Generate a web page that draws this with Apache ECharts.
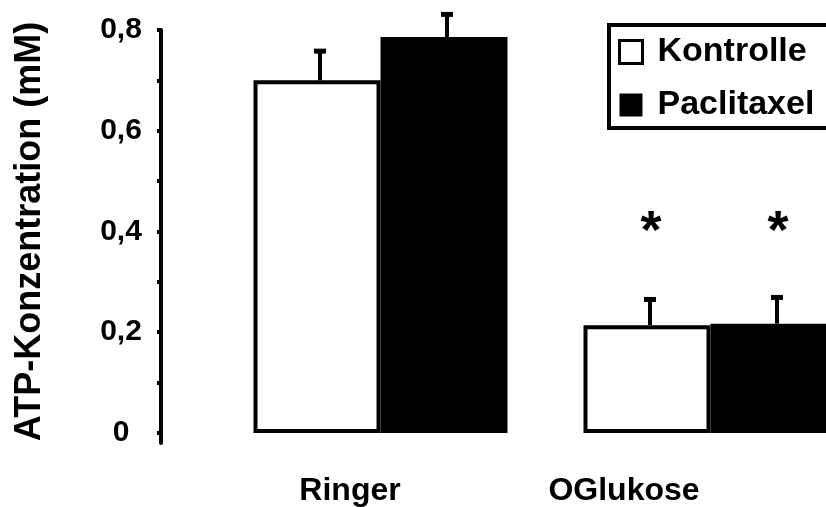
<!DOCTYPE html>
<html><head><meta charset="utf-8">
<script src="https://cdn.jsdelivr.net/npm/echarts@6/dist/echarts.min.js"></script>
<style>html,body{margin:0;padding:0;background:#fff}#c{width:826px;height:507px}</style>
</head><body><div id="c"></div>
<script>
// ---- data ----
const categories = ['Ringer', 'OGlukose'];
const seriesNames = ['Kontrolle', 'Paclitaxel'];
const kontrolle = [0.700, 0.214];
const paclitaxel = [0.786, 0.217];
const kontrolleErr = [0.059, 0.052];
const paclitaxelErr = [0.046, 0.053];
const kontrolleSig = [null, 0.42];
const paclitaxelSig = [null, 0.42];
const yLabelValues = [0, 0.2, 0.4, 0.6, 0.8];
const yTickValues = [0, 0.1, 0.2, 0.3, 0.4, 0.5, 0.6, 0.7, 0.8];

// ---- style ----
const FONT = 'Liberation Sans, Arial, sans-serif';
const BAR_W = 127;

const chart = echarts.init(document.getElementById('c'), null, {renderer: 'canvas'});

function errSeries(idx, vals, errs, sigs) {
  return {
    type: 'custom',
    z: 5,
    silent: true,
    data: categories.map((c, i) => [i, vals[i], errs[i], sigs[i] == null ? NaN : sigs[i]]),
    renderItem: function (params, api) {
      const ci = api.value(0), v = api.value(1), e = api.value(2), s = api.value(3);
      const base = api.coord([ci, v]);
      const end = api.coord([ci, v + e]);
      const xC = base[0] + (idx === 0 ? -1 : 1) * BAR_W / 2 + 3;
      const children = [
        {type: 'line', shape: {x1: xC, y1: base[1], x2: xC, y2: end[1]}, style: {stroke: '#000', lineWidth: 4}},
        {type: 'rect', shape: {x: xC - 6, y: end[1] - 2, width: 12, height: 5}, style: {fill: '#000'}}
      ];
      if (!isNaN(s)) {
        const p = api.coord([ci, s]);
        children.push({type: 'text', style: {text: '*', x: xC + 1, y: p[1] + 12, font: 'bold 54px ' + FONT, align: 'center', verticalAlign: 'middle', fill: '#000'}});
      }
      return {type: 'group', children: children};
    }
  };
}

chart.setOption({
  animation: false,
  backgroundColor: '#fff',
  grid: {left: 215.5, right: -49.5, top: 30, bottom: 64, containLabel: false, outerBoundsMode: 'none'},
  legend: {
    left: 609, top: 25, orient: 'vertical', selectedMode: false,
    data: [
      {name: 'Kontrolle', icon: 'rect', itemStyle: {color: '#fff', borderColor: '#000', borderWidth: 3}},
      {name: 'Paclitaxel', icon: 'rect', itemStyle: {color: '#000', borderColor: '#000', borderWidth: 0}}
    ],
    itemWidth: 23, itemHeight: 23, itemGap: 19,
    borderColor: '#000', borderWidth: 4, padding: [10, 30, 6, 9],
    textStyle: {fontFamily: FONT, fontWeight: 'bold', fontSize: 34, color: '#000', padding: [0, 0, 0, 10]}
  },
  xAxis: {
    type: 'category', data: categories,
    axisLine: {show: false}, axisTick: {show: false},
    axisLabel: {
      margin: 32, color: '#000',
      formatter: (v, i) => '{c' + i + '|' + v + '}',
      rich: {
        c0: {fontFamily: FONT, fontWeight: 'bold', fontSize: 32, color: '#000', padding: [0, 61, 0, 0]},
        c1: {fontFamily: FONT, fontWeight: 'bold', fontSize: 32, color: '#000', padding: [0, 173, 0, 0]}
      }
    }
  },
  yAxis: {
    type: 'value', min: -0.02, max: 0.8, offset: 54.5,
    splitLine: {show: false},
    axisLine: {show: true, lineStyle: {color: '#000', width: 4}},
    axisTick: {show: true, length: 4, lineStyle: {color: '#000', width: 4}, customValues: yTickValues},
    axisLabel: {
      customValues: yLabelValues, margin: 40, align: 'center',
      fontFamily: FONT, fontWeight: 'bold', fontSize: 30, color: '#000',
      formatter: v => String(v).replace('.', ',')
    },
    name: 'ATP-Konzentration (mM)', nameLocation: 'middle', nameGap: 113,
    nameTextStyle: {fontFamily: FONT, fontWeight: 'bold', fontSize: 36, color: '#000', padding: [0, 0, 0, 10]}
  },
  series: [
    {name: seriesNames[0], type: 'bar', data: kontrolle, barWidth: BAR_W, barGap: '0%',
      itemStyle: {color: '#fff', borderColor: '#000', borderWidth: 4}},
    {name: seriesNames[1], type: 'bar', data: paclitaxel, barWidth: BAR_W, barGap: '0%',
      itemStyle: {color: '#000', borderColor: '#000', borderWidth: 4}},
    errSeries(0, kontrolle, kontrolleErr, kontrolleSig),
    errSeries(1, paclitaxel, paclitaxelErr, paclitaxelSig)
  ]
});
</script></body></html>
